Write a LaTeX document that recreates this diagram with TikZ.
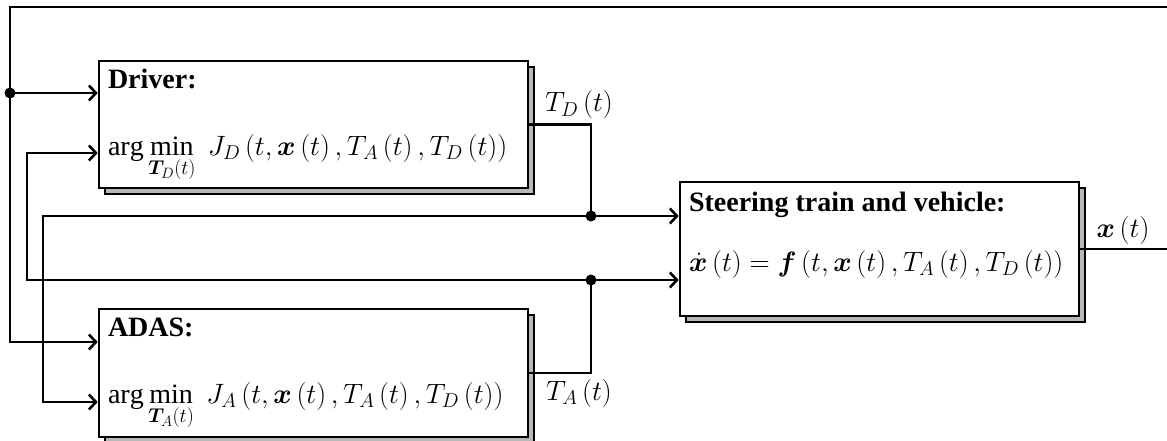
\RequirePackage{fix-cm}
\documentclass[tikz,border=0pt]{standalone}
\usepackage{amsmath}
\usepackage{fontspec}
\setmainfont{Liberation Serif}
\usepackage{bm}
\DeclareMathSizes{28}{28}{20}{15}
\usetikzlibrary{arrows.meta,shadows}
\newcommand{\bigfs}{\fontsize{28}{33}\selectfont}
\tikzset{
  blk/.style={draw, fill=white, line width=2.6pt, inner sep=0pt,
    copy shadow={shadow xshift=6pt, shadow yshift=-6pt, fill=black!28, draw=black, line width=2.6pt}},
  lbl/.style={font=\bigfs, inner sep=0pt},
  txt/.style={font=\bigfs, inner sep=0pt, anchor=base west},
  tip/.style={-{Straight Barb[length=7pt,width=15pt,line width=2.6pt]}},
  tips/.style={{Straight Barb[length=7pt,width=15pt,line width=2.6pt]}-{Straight Barb[length=7pt,width=15pt,line width=2.6pt]}},
  dot/.style={fill=black}
}
\begin{document}
\begin{tikzpicture}[x=1pt,y=-1pt,line width=2.6pt]
\useasboundingbox (0,0) rectangle (1167,441);
% blocks
\node[blk, minimum width=429pt, minimum height=127pt] (drv) at (313.5,124.5) {};
\node[blk, minimum width=429pt, minimum height=128pt] (adas) at (313.5,373) {};
\node[blk, minimum width=399pt, minimum height=134pt] (veh) at (879.5,249) {};
% block texts
\node[txt] (drvT) at ([xshift=9pt,yshift=-29pt]drv.north west) {\textbf{Driver:}};
\node[txt] (drvF) at ([xshift=9pt,yshift=-96pt]drv.north west)
  {$\displaystyle\arg\min_{\bm{T}_D(t)}\; J_D\left(t,\bm{x}\left(t\right),T_A\left(t\right),T_D\left(t\right)\right)$};
\node[txt] (adasT) at ([xshift=9pt,yshift=-29pt]adas.north west) {\textbf{ADAS:}};
\node[txt] (adasF) at ([xshift=9pt,yshift=-96pt]adas.north west)
  {$\displaystyle\arg\min_{\bm{T}_A(t)}\; J_A\left(t,\bm{x}\left(t\right),T_A\left(t\right),T_D\left(t\right)\right)$};
\node[txt] (vehT) at ([xshift=9pt,yshift=-31pt]veh.north west) {\textbf{Steering train and vehicle:}};
\node[txt] (vehF) at ([xshift=9pt,yshift=-91pt]veh.north west)
  {$\dot{\bm{x}}\left(t\right)=\bm{f}\left(t,\bm{x}\left(t\right),T_A\left(t\right),T_D\left(t\right)\right)$};
% coordinates
\coordinate (tl) at (10,7);
\coordinate (tr) at (1185,7);
\coordinate (rr) at (1185,249);
\coordinate (j1) at (10,93);
\coordinate (a1) at (10,342);
\coordinate (b1) at (27,153);
\coordinate (b2) at (27,280);
\coordinate (c1) at (43,216);
\coordinate (c2) at (43,402);
\coordinate (dj) at (591,216);
\coordinate (aj) at (591,280);
\coordinate (dk) at (591,124.5);
\coordinate (ak) at (591,373);
% connectors
\draw[tip] (veh.east) -- (rr) -- (tr) -- (tl) -- (a1) -- (a1 -| adas.west);
\draw[tip] (j1) -- (j1 -| drv.west);
\draw[tips] (b1 -| drv.west) -- (b1) -- (b2) -- (b2 -| veh.west);
\draw[tips] (c2 -| adas.west) -- (c2) -- (c1) -- (c1 -| veh.west);
\draw (drv.east) -- (dk) -- (dj);
\draw (adas.east) -- (ak) -- (aj);
\fill[dot] (j1) circle (5.5pt);
\fill[dot] (dj) circle (5.5pt);
\fill[dot] (aj) circle (5.5pt);
% labels
\node[lbl] (tdl) at (579,105) {$T_D\left(t\right)$};
\node[lbl] (tal) at (579,393) {$T_A\left(t\right)$};
\node[lbl] (xl) at (1123,230) {$\bm{x}\left(t\right)$};
\end{tikzpicture}
\end{document}
